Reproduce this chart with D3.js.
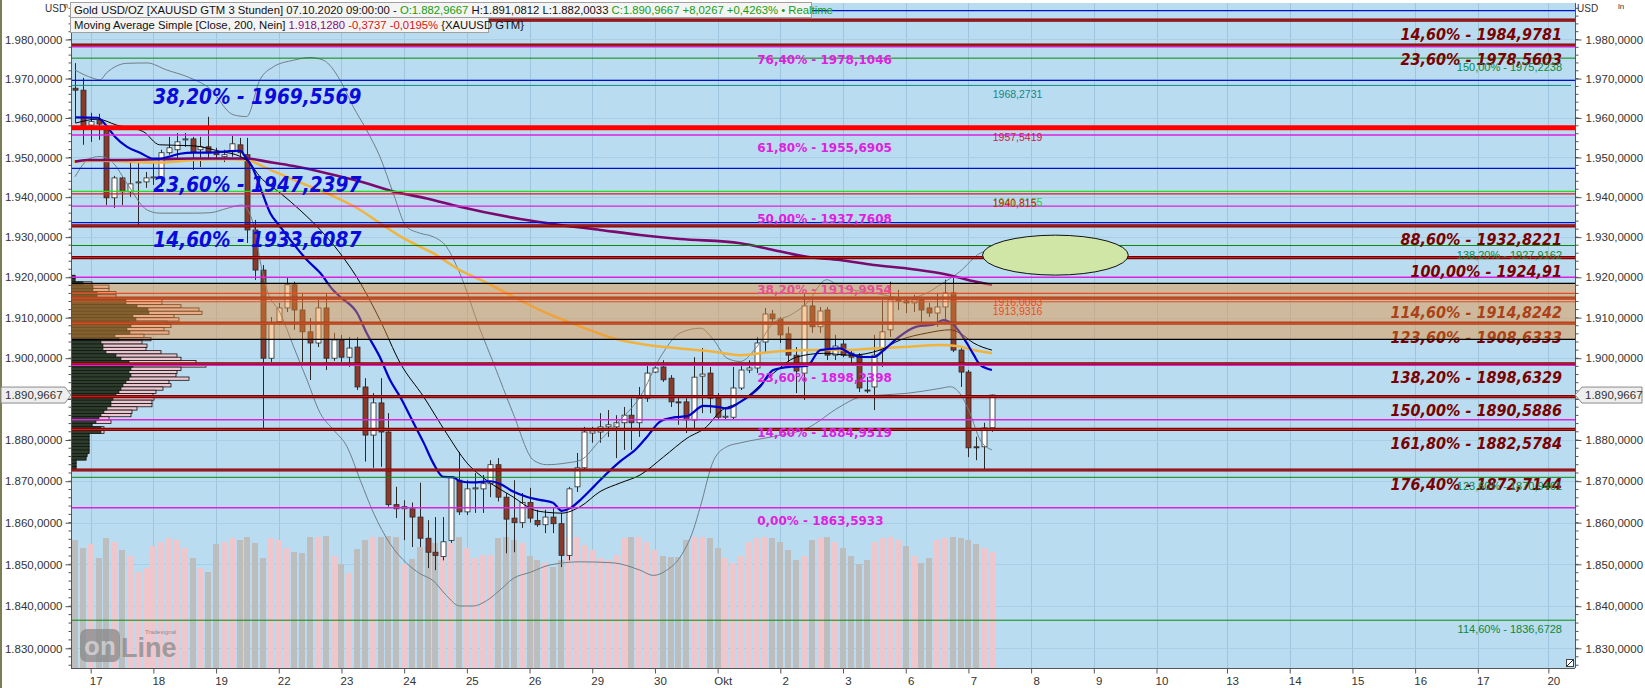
<!DOCTYPE html>
<html><head><meta charset="utf-8">
<script src="https://cdn.jsdelivr.net/npm/d3@7"></script>
<style>html,body{margin:0;padding:0;background:#fff;overflow:hidden}svg{display:block}</style>
</head><body>
<svg id="chart" width="1645" height="688"></svg>
<script>
// ---------------- DATA ----------------
const opens = [1967.55,1967.05,1958.2,1959.5,1956.95,1939.85,1944.85,1941.35,1943.6,1943.85,1944.85,1944.85,1951.2,1951.95,1954.45,1954.7,1951.95,1952.7,1951.2,1950.2,1951.45,1953.2,1950.7,1931.8,1921.8,1900.0,1909.0,1912.4,1918.15,1911.9,1906.5,1903.75,1912.4,1900.0,1904.5,1900.25,1902.75,1892.95,1881.2,1889.05,1881.95,1864.35,1863.35,1863.35,1861.35,1856.25,1852.9,1851.9,1855.75,1870.25,1862.6,1868.15,1868.15,1869.4,1874.0,1866.15,1861.1,1860.0,1864.85,1860.5,1859.5,1861.35,1859.75,1852.15,1868.65,1873.25,1881.7,1881.95,1883.2,1883.2,1884.2,1886.05,1884.2,1890.2,1896.6,1897.85,1895.1,1889.3,1889.3,1884.85,1895.6,1896.35,1890.2,1885.55,1885.55,1892.7,1897.1,1897.6,1904.0,1910.9,1909.7,1906.0,1900.75,1896.35,1912.9,1907.75,1911.9,1900.75,1903.5,1901.25,1900.75,1892.2,1892.95,1902.0,1907.0,1914.15,1914.15,1913.65,1914.4,1912.4,1911.15,1912.65,1916.15,1902.0,1896.6,1878.35,1878.35,1882.9667];
const highs = [1973.95,1970.2,1961.3,1961.05,1958.2,1945.35,1945.35,1948.85,1948.6,1946.35,1948.85,1951.95,1955.2,1956.2,1956.2,1955.2,1955.2,1960.3,1952.45,1951.95,1955.45,1954.95,1954.95,1934.3,1923.05,1910.15,1913.65,1919.8,1918.9,1916.15,1909.9,1914.4,1916.15,1906.25,1905.75,1905.25,1905.25,1895.1,1891.45,1895.1,1886.55,1868.65,1865.4,1864.85,1869.65,1860.6,1861.35,1861.35,1871.25,1877.1,1870.25,1872.0,1871.5,1875.1,1875.6,1867.15,1870.25,1867.15,1868.4,1863.1,1863.1,1863.6,1862.35,1868.65,1876.85,1883.2,1883.2,1886.55,1887.3,1886.05,1888.05,1890.2,1892.95,1898.35,1898.35,1899.5,1895.85,1890.95,1890.2,1900.25,1902.5,1897.85,1891.45,1888.05,1897.85,1898.85,1899.5,1905.25,1912.4,1911.9,1910.15,1907.75,1902.75,1916.15,1914.4,1912.65,1912.65,1905.75,1904.5,1902.0,1901.25,1895.35,1905.75,1914.4,1918.9,1916.9,1915.15,1915.65,1915.15,1913.65,1916.15,1919.4,1919.8,1902.75,1897.1,1880.8,1884.2,1891.0812];
const lows = [1958.7,1953.2,1953.95,1954.45,1938.05,1937.3,1938.05,1940.1,1933.05,1942.35,1943.1,1942.6,1950.7,1949.4,1952.7,1946.85,1947.6,1949.4,1949.4,1948.85,1950.2,1949.95,1928.55,1919.35,1882.95,1899.1,1908.25,1911.4,1907.0,1899.1,1894.65,1902.75,1897.1,1899.35,1899.1,1897.85,1892.2,1874.75,1873.25,1873.5,1863.85,1861.1,1855.8,1854.15,1854.15,1849.1,1848.6,1850.95,1855.15,1861.85,1861.85,1862.35,1862.35,1866.15,1865.1,1852.65,1852.9,1858.75,1860.0,1859.0,1857.5,1857.5,1849.35,1850.95,1867.4,1872.75,1879.35,1879.35,1880.75,1875.6,1877.6,1877.6,1880.75,1889.3,1896.35,1894.2,1888.05,1883.7,1881.7,1882.45,1886.55,1886.55,1884.9,1884.9,1884.9,1892.2,1896.35,1896.35,1901.25,1908.75,1903.75,1899.1,1891.45,1889.75,1906.25,1906.25,1899.55,1899.55,1900.25,1898.85,1891.7,1891.45,1887.3,1897.85,1905.25,1911.9,1911.15,1911.4,1908.75,1910.15,1907.75,1909.0,1901.5,1892.95,1875.85,1875.1,1872.75,1882.0033];
const closes = [1967.05,1957.7,1959.05,1958.45,1939.85,1944.85,1941.35,1943.35,1943.85,1944.85,1945.1,1951.2,1952.45,1953.95,1954.7,1951.45,1952.7,1951.45,1950.7,1950.7,1953.45,1951.2,1931.8,1921.8,1900.0,1908.75,1912.4,1918.15,1911.9,1906.5,1903.75,1912.4,1900.0,1904.5,1900.25,1902.5,1892.95,1881.2,1889.05,1881.95,1864.35,1863.35,1863.85,1861.35,1856.25,1852.9,1852.15,1855.4,1871.0,1862.6,1868.15,1868.4,1869.4,1874.0,1866.15,1860.85,1860.0,1864.85,1861.1,1859.5,1861.35,1859.75,1852.15,1868.15,1873.25,1881.95,1882.2,1883.2,1883.7,1884.2,1886.05,1884.2,1890.2,1896.35,1897.6,1894.7,1889.3,1889.05,1884.9,1895.35,1896.1,1890.2,1885.55,1885.8,1892.7,1897.1,1897.6,1903.75,1910.9,1909.7,1905.75,1900.75,1896.85,1912.9,1907.75,1911.65,1900.75,1903.0,1900.75,1900.25,1892.7,1891.95,1900.75,1906.5,1914.4,1914.4,1913.65,1914.4,1911.9,1911.15,1912.65,1916.15,1902.0,1896.6,1878.1,1878.1,1882.94,1890.9667];
const volumes = [128,120,124,110,130,126,118,112,96,100,122,126,130,128,120,110,100,96,124,126,130,128,131,125,110,130,128,120,116,115,131,131,132,112,104,95,119,128,131,131,132,131,104,109,121,121,125,121,125,131,120,110,113,113,130,131,128,125,112,108,105,101,108,131,131,123,118,110,108,113,130,131,131,126,118,112,111,111,128,131,131,130,120,110,105,112,126,130,131,130,126,118,108,112,128,130,131,126,120,112,104,108,126,130,131,128,122,112,105,110,128,130,131,130,128,124,120,116];

// time axis (bar index of each day label)
const dayLabels = ["17","18","19","22","23","24","25","26","29","30","Okt","2","3","6","7","8","9","10","13","14","15","16","17","20"];
const dayBars   = [2,10,18,26,34,42,50,58,66,74,82,90,98,106,114,122,130,138,147,155,163,171,179,188];
const priceTicks = [1830,1840,1850,1860,1870,1880,1890,1900,1910,1920,1930,1940,1950,1960,1970,1980];

// indicator lines, [barIndex, price]
const blueMA = [[0.1,1960.15],[2.9,1960.05],[4.1,1957.75],[5.1,1955.25],[6.6,1952.75],[8.3,1951.2],[10,1949.7],[10.8,1949.7],[12.1,1950.25],[13.4,1950.95],[15.1,1951.25],[17.2,1951.25],[19.4,1951.55],[21.1,1951.7],[21.7,1950.25],[22.6,1947.65],[23.6,1942.65],[24.9,1936.05],[26.2,1932.6],[27.8,1928.5],[29.6,1924.3],[31.3,1921.05],[32.9,1916.9],[33.8,1915.2],[36,1911.15],[37.2,1906.25],[38.9,1900.3],[40.2,1894.65],[41.5,1890.5],[43.2,1884.15],[44.5,1879.3],[45.7,1874.45],[47,1871.05],[48.3,1870.95],[49.1,1870.0],[50.8,1869.7],[53,1870.0],[54.2,1869.4],[55.9,1867.5],[57.7,1866.2],[59.3,1865.5],[61,1864.8],[62.1,1862.85],[63.2,1863.5],[64.5,1865.5],[66.2,1868.7],[67.9,1871.95],[69.6,1874.85],[71.7,1878.0],[73,1880.8],[74.7,1884.55],[76.4,1885.5],[78.1,1885.8],[80.2,1888.3],[81.9,1888.1],[83.2,1887.7],[84.9,1889.3],[87.4,1893.0],[89.1,1897.1],[91.3,1897.9],[93.4,1898.1],[95.1,1902.0],[97.6,1902.4],[98.9,1901.2],[100.2,1900.3],[101.9,1900.3],[103.2,1902.0],[104.9,1904.9],[107.4,1907.8],[109.5,1908.25],[110.8,1909.4],[112.1,1908.25],[113.8,1903.7],[114.7,1900.75],[115.5,1898.35],[117,1897.1]];
const blackMA = [[0.1,1958.7],[2.9,1959.7],[5.3,1958.2],[8.7,1956.55],[10.8,1953.2],[15.1,1952.95],[18.5,1951.55],[21.1,1950.25],[22.3,1948.55],[23.6,1945.15],[26.2,1941.05],[28.7,1936.8],[31.3,1931.8],[33.8,1926.05],[36.4,1918.6],[38.9,1909.5],[41.5,1898.8],[44.5,1890.5],[47.4,1881.65],[50,1874.45],[52.5,1870.25],[55.9,1866.2],[58.5,1863.1],[60.2,1862.5],[62.1,1862.3],[64.5,1863.9],[67,1867.5],[69.6,1869.6],[72.1,1871.5],[75.1,1875.9],[78.1,1880.45],[80.6,1883.25],[82.3,1886.9],[84.9,1889.3],[89.1,1896.3],[92.1,1900.3],[95.5,1901.2],[98.9,1900.75],[102.7,1902.0],[105.3,1904.5],[108.7,1906.2],[111.7,1907.0],[112.9,1906.2],[114.7,1903.7],[117,1902.0]];
const orangeMA = [[-0.2,1948.95],[3.2,1949.15],[6.6,1948.95],[10.8,1948.75],[15.1,1949.35],[19.4,1949.55],[21.9,1949.35],[24.5,1947.25],[27.9,1944.35],[32.1,1941.0],[36.4,1936.8],[38.9,1933.5],[42.3,1929.3],[45.7,1926.0],[49.1,1921.8],[51.7,1919.4],[55.9,1915.2],[60.2,1911.1],[64.5,1907.8],[68.7,1904.9],[73,1903.25],[77.2,1902.4],[81.5,1901.6],[84.9,1900.75],[89.1,1901.6],[93.4,1902.0],[97.6,1902.0],[101.9,1902.4],[106.2,1902.8],[110.4,1903.25],[112.5,1903.0],[114.7,1902.0],[117,1901.2]];
const purpleMA = [[0,1948.95],[1.5,1949.35],[4.5,1949.35],[10.8,1949.55],[15.1,1949.75],[21.9,1949.75],[24.5,1948.95],[27.9,1947.85],[32.1,1946.05],[36.4,1943.95],[40.6,1941.45],[44.9,1939.7],[49.1,1937.6],[56.8,1934.55],[61.9,1933.05],[67,1931.8],[72.1,1930.55],[77.2,1929.55],[84.9,1928.5],[89.1,1926.8],[93.4,1925.1],[97.6,1924.3],[101.9,1923.05],[106.2,1922.2],[110.4,1921.0],[112.5,1920.1],[114.7,1919.0],[117,1918.128]];
const upperBand = [[0,1972.2],[2.3,1970.1],[3.2,1969.7],[4,1971.4],[6.6,1973.9],[9.2,1974.0],[11.7,1972.2],[14.3,1970.5],[17.2,1967.45],[20.2,1960.8],[21.9,1960.35],[23.6,1969.7],[25.3,1973.0],[27.9,1974.7],[30,1975.4],[31.7,1974.7],[33.8,1969.7],[35.5,1962.85],[37.2,1956.95],[38.9,1950.25],[40.6,1941.05],[42.3,1932.6],[44,1931.0],[45.7,1930.1],[47.4,1927.6],[49.1,1921.0],[51.7,1907.0],[53.4,1898.8],[55.9,1886.5],[58.5,1875.1],[60.2,1874.0],[62.8,1874.45],[64.5,1875.1],[67,1879.95],[69.6,1884.95],[72.1,1890.5],[74.7,1900.3],[77.2,1906.2],[79.8,1907.4],[81.5,1904.5],[83.2,1900.0],[84.9,1899.2],[87,1902.8],[89.1,1908.7],[91.3,1910.65],[93.4,1913.6],[95.9,1919.4],[97.6,1917.7],[101.9,1916.1],[106.2,1914.8],[108.7,1916.1],[110.4,1918.15],[112.9,1921.4],[115.5,1926.0],[117,1926.8]];
const lowerBand = [[0,1945.15],[1.9,1949.75],[3.2,1950.25],[4.9,1948.55],[6.6,1943.55],[9.2,1936.8],[10.8,1936.0],[15.1,1936.0],[17.2,1936.1],[19.4,1937.2],[21.3,1938.05],[22.8,1933.05],[23.6,1924.3],[24.5,1916.9],[26.2,1911.1],[27.9,1902.8],[29.6,1894.7],[31.3,1886.5],[33,1882.45],[34.7,1878.4],[36.4,1870.25],[38.1,1862.3],[40.2,1854.95],[42.3,1850.3],[44,1847.8],[45.7,1846.1],[47.4,1842.55],[49.1,1840.05],[50.8,1840.05],[52.5,1841.3],[54.2,1843.8],[55.9,1846.6],[58.1,1848.1],[60.6,1849.85],[64.5,1850.6],[68.7,1850.35],[72.1,1848.6],[73.8,1847.35],[75.5,1848.6],[77.2,1851.7],[78.9,1858.25],[79.8,1863.9],[81.5,1875.1],[83.2,1878.4],[84.9,1879.3],[89.1,1880.85],[93.4,1882.85],[97.6,1888.1],[100.2,1890.5],[102.7,1890.95],[106.2,1891.4],[110.4,1892.6],[111.7,1893.0],[112.9,1891.4],[114.2,1886.5],[115.5,1880.0],[117,1877.6]];

// volume profile (rows from top price downwards)
const profileTopPrice = 1920.5, profileRowStep = 0.81;
const profileTotal = [4,4,21,38,38,45,45,91,91,110,128,131,103,108,96,100,93,98,73,80,71,76,75,90,106,110,125,135,110,106,105,118,98,100,92,85,82,83,81,81,66,61,60,38,40,21,33,33,18,18,18,18,18,18,16,15,5,5,5];
const profileDark  = [4,4,12,22,22,26,26,55,55,66,77,78,62,65,58,60,56,59,44,48,30,32,32,35,45,50,58,62,60,58,60,58,55,52,50,48,45,42,40,40,36,33,30,28,25,21,30,30,18,18,18,18,18,18,16,15,5,5,5];

// horizontal levels, grouped by kind
const blueLevels    = [1987.4,1969.5569,1947.2397,1933.6087];
const maroonLevels  = [1984.9781,1978.5603,1932.8221,1924.91,1914.8242,1908.6333,1898.6329,1890.5886,1882.5784,1872.7144];
const magentaLevels = [1978.1046,1955.6905,1937.7608,1919.9954,1898.2398,1884.9519,1863.5933];
const greenLevels   = [1975.2238,1927.9162,1870.9461,1836.6728];
const tealLevels    = [1968.2731];
const redThickLevels= [1957.5419];
const redLevels     = [1940.815,1916.0083,1913.9316];
const limeLevels    = [1941.45];
const zoneBounds    = [1904.65,1918.5];
const ellipseBox    = [115.8,134.4,1930.5,1920.55]; // bar from, bar to, price top, price bottom

// labels
const blueTexts    = ["38,20% - 1969,5569","23,60% - 1947,2397","14,60% - 1933,6087"];
const maroonTexts  = ["14,60% - 1984,9781","23,60% - 1978,5603","88,60% - 1932,8221","100,00% - 1924,91","114,60% - 1914,8242","123,60% - 1908,6333","138,20% - 1898,6329","150,00% - 1890,5886","161,80% - 1882,5784","176,40% - 1872,7144"];
const magentaTexts = ["76,40% - 1978,1046","61,80% - 1955,6905","50,00% - 1937,7608","38,20% - 1919,9954","23,60% - 1898,2398","14,60% - 1884,9519","0,00% - 1863,5933"];
const greenTexts   = ["150,00% - 1975,2238","138,20% - 1927,9162","123,60% - 1870,9461","114,60% - 1836,6728"];
const tagTexts     = [["1968,2731",1968.2731,"teal"],["1957,5419",1957.5419,"crimson"],["1941,2155",1941.05,"lime"],["1940,815",1940.815,"red"],["1916,0083",1916.0083,"red"],["1913,9316",1913.9316,"red"]];
const ma200 = {value:1918.1280, change:-0.3737, pct:-0.0195};

// ---------------- CHART ----------------
const W=1645,H=688, L=71, R=1575, T=3, B=668;
const svg = d3.select("#chart");
const x = d3.scaleLinear().domain([-0.51,191.4]).range([L,R]);
const y = d3.scaleLog().domain([1825.35,1989.37]).range([B,T]);   // logarithmic price axis ("ln")
const yv = d3.scaleLinear().domain([0,140]).range([B,B-140]);
const xp = d3.scaleLinear().domain([0,150]).range([L,L+150]);
const loc = d3.formatLocale({decimal:",",thousands:".",grouping:[3],currency:["",""],minus:"-"});
const f4 = loc.format(",.4f");
const n = closes.length;
const FONT = "Liberation Sans, Arial, sans-serif";

svg.append("rect").attr("width",W).attr("height",H).attr("fill","#fff");
svg.append("rect").attr("x",0).attr("y",0).attr("width",2).attr("height",H).attr("fill","#7d7d55");
svg.append("defs").append("clipPath").attr("id","clip").append("rect").attr("x",L).attr("y",T).attr("width",R-L).attr("height",B-T);
svg.append("rect").attr("x",L).attr("y",T).attr("width",R-L).attr("height",B-T).attr("fill","#b9dcf1");

const plot = svg.append("g").attr("clip-path","url(#clip)");

// grid
plot.append("g").selectAll("line").data(dayBars).join("line")
  .attr("x1",d=>Math.round(x(d))+0.5).attr("x2",d=>Math.round(x(d))+0.5).attr("y1",T).attr("y2",B)
  .attr("stroke","#9fc6df").attr("stroke-width",1);
plot.append("g").selectAll("line").data(priceTicks).join("line")
  .attr("x1",L).attr("x2",R).attr("y1",d=>Math.round(y(d))+0.5).attr("y2",d=>Math.round(y(d))+0.5)
  .attr("stroke","#a9cfe6").attr("stroke-width",1);

// volume bars
plot.append("g").selectAll("rect").data(d3.range(n)).join("rect")
  .attr("x",i=>Math.round(x(i))-3).attr("width",6)
  .attr("y",i=>yv(volumes[i])).attr("height",i=>B-yv(volumes[i]))
  .attr("fill",i=>closes[i]>=opens[i]?"#efc6cc":"#bdbdbd");

// volume profile
const rowY = i=>y(profileTopPrice-i*profileRowStep);
const prof = plot.append("g");
prof.selectAll("rect.t").data(d3.range(profileTotal.length)).join("rect").attr("class","t")
  .attr("x",L).attr("y",i=>rowY(i)).attr("width",i=>xp(profileTotal[i])-L).attr("height",i=>rowY(i+1)-rowY(i))
  .attr("fill","#ecc6d0").attr("stroke","#111").attr("stroke-width",0.8);
prof.selectAll("rect.d").data(d3.range(profileDark.length)).join("rect").attr("class","d")
  .attr("x",L).attr("y",i=>rowY(i)).attr("width",i=>xp(profileDark[i])-L).attr("height",i=>rowY(i+1)-rowY(i))
  .attr("fill","#2c3d2c").attr("stroke","#111").attr("stroke-width",0.6);

// candles
const cg = plot.append("g");
cg.selectAll("line").data(d3.range(n)).join("line")
  .attr("x1",i=>Math.round(x(i))+0.5).attr("x2",i=>Math.round(x(i))+0.5)
  .attr("y1",i=>y(highs[i])).attr("y2",i=>y(lows[i])).attr("stroke","#2a2a2a").attr("stroke-width",1);
cg.selectAll("rect").data(d3.range(n)).join("rect")
  .attr("x",i=>Math.round(x(i))-2).attr("width",5)
  .attr("y",i=>y(Math.max(opens[i],closes[i])))
  .attr("height",i=>Math.max(1,Math.abs(y(opens[i])-y(closes[i]))))
  .attr("fill",i=>closes[i]>=opens[i]?"#ffffff":"#8b3a2a").attr("stroke","#2a2a2a").attr("stroke-width",0.8);

// indicator lines
const ln = d3.line().x(d=>x(d[0])).y(d=>y(d[1])).curve(d3.curveMonotoneX);
plot.append("path").attr("d",ln(upperBand)).attr("fill","none").attr("stroke","#6f7f88").attr("stroke-width",1);
plot.append("path").attr("d",ln(lowerBand)).attr("fill","none").attr("stroke","#6f7f88").attr("stroke-width",1);
plot.append("path").attr("d",ln(orangeMA)).attr("fill","none").attr("stroke","#f2b33c").attr("stroke-width",2.5);
plot.append("path").attr("d",ln(purpleMA)).attr("fill","none").attr("stroke","#7a0a6e").attr("stroke-width",2.6);
plot.append("path").attr("d",ln(blackMA)).attr("fill","none").attr("stroke","#000").attr("stroke-width",1);
plot.append("path").attr("d",ln(blueMA)).attr("fill","none").attr("stroke","#0000cc").attr("stroke-width",2.2);

// horizontal levels
function hl(vals,color,w,x1){
  plot.append("g").selectAll("line").data(vals).join("line")
    .attr("x1",L).attr("x2",x1||R).attr("y1",d=>y(d)).attr("y2",d=>y(d))
    .attr("stroke",color).attr("stroke-width",w);
}
hl(greenLevels,"#0a8a0a",1);
hl(tealLevels,"#128a8a",1,R-4);
hl(limeLevels,"#22dd22",1.2);
hl(redLevels,"#e01818",1.2);
hl(maroonLevels,"#7a0000",3.2);
hl(maroonLevels,"#c22a2a",1);
hl(magentaLevels,"#e020e0",1.4);
hl(blueLevels,"#0010cc",1.3);
hl(redThickLevels,"#ff0000",5);

// big blue labels
plot.append("g").selectAll("text").data(blueTexts).join("text")
  .attr("x",x(10.0)).attr("y",(d,i)=>y(blueLevels[i+1])+24).text(d=>d)
  .attr("font-family","DejaVu Sans Condensed, DejaVu Sans, sans-serif").attr("font-weight","bold").attr("font-style","italic")
  .attr("font-size",20.6).attr("fill","#0a0adc");
// magenta labels
plot.append("g").selectAll("text").data(magentaTexts).join("text")
  .attr("x",x(87.05)).attr("y",(d,i)=>y(magentaLevels[i])+17).text(d=>d)
  .attr("font-family","DejaVu Sans, sans-serif").attr("font-weight","bold").attr("font-size",12).attr("fill","#e020e0");
// right maroon labels
plot.append("g").selectAll("text").data(maroonTexts).join("text")
  .attr("x",1562).attr("y",(d,i)=>y(maroonLevels[i])+19.5).attr("text-anchor","end").text(d=>d)
  .attr("font-family","DejaVu Sans Condensed, DejaVu Sans, sans-serif").attr("font-weight","bold").attr("font-style","italic")
  .attr("font-size",16).attr("fill","#7a0000");
// green small labels
plot.append("g").selectAll("text").data(greenTexts).join("text")
  .attr("x",1562).attr("y",(d,i)=>y(greenLevels[i])+13).attr("text-anchor","end").text(d=>d)
  .attr("font-family",FONT).attr("font-size",11).attr("fill","#0a8a3a");
// small value tags
const tagColor = {teal:"#138585",crimson:"#d01840",lime:"#33cc33",red:"#e81010"};
plot.append("g").selectAll("text").data(tagTexts).join("text")
  .attr("x",x(117.1)).attr("y",d=>y(d[1])+13).text(d=>d[0])
  .attr("font-family",FONT).attr("font-size",10.5).attr("fill",d=>tagColor[d[2]]);

// zone overlay (drawn over everything in that price range)
plot.append("rect").attr("x",L).attr("width",R-L)
  .attr("y",y(zoneBounds[1])).attr("height",y(zoneBounds[0])-y(zoneBounds[1]))
  .attr("fill","rgb(232,142,54)").attr("fill-opacity",0.45);
hl(zoneBounds,"#000",1.2);

// ellipse
plot.append("ellipse")
  .attr("cx",(x(ellipseBox[0])+x(ellipseBox[1]))/2).attr("cy",(y(ellipseBox[2])+y(ellipseBox[3]))/2)
  .attr("rx",(x(ellipseBox[1])-x(ellipseBox[0]))/2).attr("ry",(y(ellipseBox[3])-y(ellipseBox[2]))/2)
  .attr("fill","#cfe6a6").attr("stroke","#111").attr("stroke-width",1);

// logo
const logo = svg.append("g").attr("opacity",0.75);
logo.append("rect").attr("x",80).attr("y",629).attr("width",40).attr("height",33).attr("rx",7).attr("fill","#8a8a8a");
logo.append("text").attr("x",100).attr("y",655).attr("text-anchor","middle").text("on")
  .attr("font-family",FONT).attr("font-weight","bold").attr("font-size",26).attr("fill","#c9c9c9");
logo.append("text").attr("x",121).attr("y",657).text("Line")
  .attr("font-family",FONT).attr("font-weight","bold").attr("font-size",27).attr("fill","#8a8a8a");
logo.append("text").attr("x",145).attr("y",634).text("Tradesignal")
  .attr("font-family",FONT).attr("font-size",6).attr("fill","#777");

// frame
svg.append("line").attr("x1",L+0.5).attr("x2",L+0.5).attr("y1",T).attr("y2",B).attr("stroke","#555");
svg.append("line").attr("x1",R+0.5).attr("x2",R+0.5).attr("y1",T).attr("y2",B).attr("stroke","#555");
svg.append("line").attr("x1",L).attr("x2",R).attr("y1",B+0.5).attr("y2",B+0.5).attr("stroke","#555");

// axes
const last = closes[n-1];
const minor = d3.range(1826,1989,2);
const tickFmt = d=> Math.abs(d-last)<5 ? "" : f4(d);   // the current-price marker covers this label
const axL = svg.append("g").attr("transform",`translate(${L+0.5},0)`);
axL.call(d3.axisLeft(y).tickValues(priceTicks).tickFormat(tickFmt).tickSize(6).tickPadding(3));
axL.selectAll(".minor").data(minor).join("line").attr("class","minor").attr("x1",-3).attr("x2",0).attr("y1",d=>y(d)).attr("y2",d=>y(d)).attr("stroke","#555");
const axR = svg.append("g").attr("transform",`translate(${R+0.5},0)`);
axR.call(d3.axisRight(y).tickValues(priceTicks).tickFormat(tickFmt).tickSize(6).tickPadding(4));
axR.selectAll(".minor").data(minor).join("line").attr("class","minor").attr("x1",0).attr("x2",3).attr("y1",d=>y(d)).attr("y2",d=>y(d)).attr("stroke","#555");
const axB = svg.append("g").attr("transform",`translate(0,${B+0.5})`);
axB.call(d3.axisBottom(x).tickValues(dayBars).tickFormat((d,i)=>dayLabels[i]).tickSize(5).tickPadding(3));
[axL,axR,axB].forEach(a=>{a.select(".domain").remove();a.selectAll("line").attr("stroke","#555");
  a.selectAll("text").attr("font-family",FONT).attr("font-size",11.5).attr("fill","#333");});
axB.selectAll("text").attr("dx",5);

svg.append("text").attr("x",45).attr("y",12).text("USD").attr("font-family",FONT).attr("font-size",10).attr("fill","#333");
svg.append("text").attr("x",64).attr("y",8).text("n").attr("font-family",FONT).attr("font-size",7).attr("fill","#333");
svg.append("text").attr("x",1577).attr("y",12).text("USD").attr("font-family",FONT).attr("font-size",10).attr("fill","#333");
svg.append("text").attr("x",1618).attr("y",9).text("ln").attr("font-family",FONT).attr("font-size",8).attr("fill","#333");

// current price markers
const yl = y(last);
svg.append("path").attr("d",`M1,${yl-8}H65L${L},${yl}L65,${yl+8}H1Z`).attr("fill","#eeeeee").attr("stroke","#8a8a8a");
svg.append("text").attr("x",5).attr("y",yl+4).text(f4(last)).attr("font-family",FONT).attr("font-size",11.5).attr("fill","#333");
svg.append("path").attr("d",`M${R},${yl}L${R+7},${yl-8}H1642V${yl+8}H${R+7}Z`).attr("fill","#eeeeee").attr("stroke","#8a8a8a");
svg.append("text").attr("x",R+10).attr("y",yl+4).text(f4(last)).attr("font-family",FONT).attr("font-size",11.5).attr("fill","#333");

// small corner icon
svg.append("rect").attr("x",1566.5).attr("y",659.5).attr("width",7).attr("height",7).attr("fill","#fff").attr("stroke","#444");
svg.append("line").attr("x1",1567).attr("y1",666).attr("x2",1573).attr("y2",660).attr("stroke","#222");

// header boxes
const hdr = svg.append("g");
hdr.append("rect").attr("x",70.5).attr("y",2.5).attr("width",741).attr("height",15).attr("fill","#f4f4f4").attr("stroke","#a0a0a0");
hdr.append("rect").attr("x",70.5).attr("y",17.5).attr("width",418).attr("height",15).attr("fill","#f4f4f4").attr("stroke","#a0a0a0");
const t1 = hdr.append("text").attr("x",74).attr("y",14).attr("font-family",FONT).attr("font-size",11.3);
t1.append("tspan").attr("fill","#111").text("Gold USD/OZ [XAUUSD GTM 3 Stunden] 07.10.2020 09:00:00 - ");
t1.append("tspan").attr("fill","#10a010").text("O:"+f4(opens[n-1]));
t1.append("tspan").attr("fill","#111").text(" H:"+f4(highs[n-1])+" L:"+f4(lows[n-1])+" ");
t1.append("tspan").attr("fill","#10a010").text("C:"+f4(last)+" +8,0267 +0,4263% \u2022 Realtime");
const t2 = hdr.append("text").attr("x",74).attr("y",29).attr("font-family",FONT).attr("font-size",11.3);
t2.append("tspan").attr("fill","#111").text("Moving Average Simple [Close, 200, Nein] ");
t2.append("tspan").attr("fill","#8a0a8a").text(f4(ma200.value));
t2.append("tspan").attr("fill","#e01010").text(" "+loc.format(".4f")(ma200.change)+" "+loc.format(".4f")(ma200.pct)+"%");
t2.append("tspan").attr("fill","#111").text(" {XAUUSD GTM}");
</script>
</body></html>
